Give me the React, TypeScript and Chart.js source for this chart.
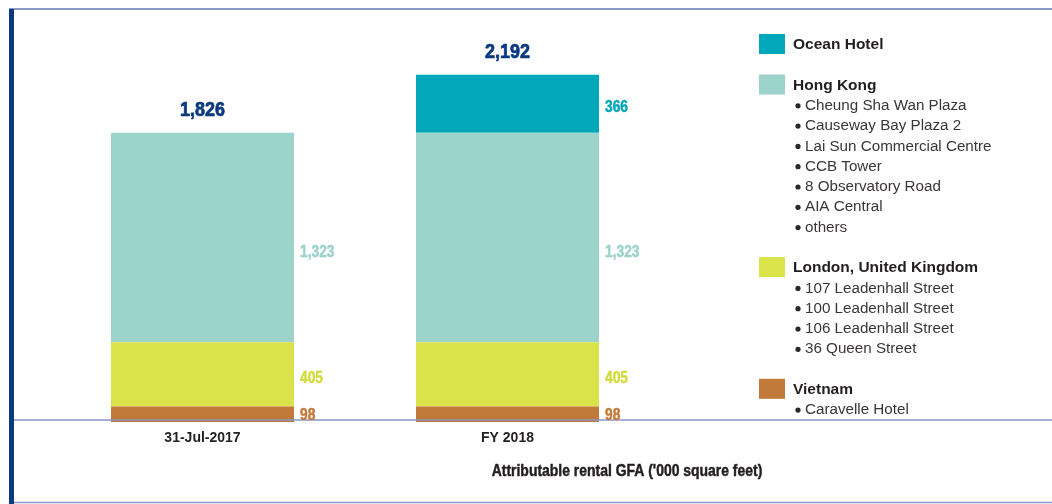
import React, { useEffect, useRef } from "react";
import { Chart, registerables } from "chart.js";

Chart.register(...registerables);

// ---- data ----
const categories = ["31-Jul-2017", "FY 2018"];
const seriesNames = ["Vietnam", "London, United Kingdom", "Hong Kong", "Ocean Hotel"];
const vietnam = [98, 98];
const london = [405, 405];
const hongKong = [1323, 1323];
const oceanHotel = [0, 366];
const seriesColors = ["#c27a3a", "#dbe34b", "#9cd3cb", "#00a8ba"];
const labelColors = ["#c47a3a", "#d3db3e", "#9dd3cc", "#00a6b8"];
const legendOrder = [3, 2, 1, 0];
const vietnamItems = ["Caravelle Hotel"];
const londonItems = ["107 Leadenhall Street", "100 Leadenhall Street", "106 Leadenhall Street", "36 Queen Street"];
const hongKongItems = [
  "Cheung Sha Wan Plaza",
  "Causeway Bay Plaza 2",
  "Lai Sun Commercial Centre",
  "CCB Tower",
  "8 Observatory Road",
  "AIA Central",
  "others",
];
const oceanItems: string[] = [];
const axisTitle = "Attributable rental GFA ('000 square feet)";
const yMax = 2500;

const SANS = '"Liberation Sans", Arial, Helvetica, sans-serif';

const fmt = (v: number) => v.toLocaleString("en-US");

// draws text horizontally condensed and slightly heavier (the original uses a condensed bold face)
function condensedText(ctx: any, text: string, x: number, y: number, sx: number, weight = 0.6) {
  ctx.save();
  ctx.translate(x, y);
  ctx.scale(sx, 1);
  ctx.fillText(text, 0, 0);
  if (weight > 0) {
    ctx.strokeStyle = ctx.fillStyle;
    ctx.lineWidth = weight;
    ctx.lineJoin = "round";
    ctx.strokeText(text, 0, 0);
  }
  ctx.restore();
}

const decorPlugin = {
  id: "decor",
  beforeDraw(chart: any) {
    const ctx = chart.ctx;
    const W = chart.width;
    const H = chart.height;
    ctx.save();
    ctx.fillStyle = "#ffffff";
    ctx.fillRect(0, 0, W, H);
    // top rule
    ctx.strokeStyle = "#8a98c8";
    ctx.lineWidth = 2;
    ctx.beginPath();
    ctx.moveTo(9, 9);
    ctx.lineTo(W, 9);
    ctx.stroke();
    // bottom rule
    ctx.lineWidth = 1.5;
    ctx.beginPath();
    ctx.moveTo(9, 502.5);
    ctx.lineTo(W, 502.5);
    ctx.stroke();
    // left bar
    ctx.fillStyle = "#0c3a7f";
    ctx.fillRect(9, 9, 5, H - 9);
    ctx.restore();
  },
  afterDatasetsDraw(chart: any) {
    const ctx = chart.ctx;
    const area = chart.chartArea;
    const W = chart.width;
    ctx.save();
    // baseline
    ctx.strokeStyle = "#8796c6";
    ctx.lineWidth = 1.5;
    ctx.beginPath();
    ctx.moveTo(14, area.bottom - 2);
    ctx.lineTo(W, area.bottom - 2);
    ctx.stroke();

    // segment value labels
    ctx.textAlign = "left";
    ctx.textBaseline = "middle";
    ctx.font = `bold 16px ${SANS}`;
    const ds = chart.data.datasets;
    const tops: number[] = [];
    const centers: number[] = [];
    const totals: number[] = [];
    ds.forEach((d: any, i: number) => {
      const meta = chart.getDatasetMeta(i);
      meta.data.forEach((el: any, j: number) => {
        const v = d.data[j];
        if (!v) return;
        totals[j] = (totals[j] || 0) + v;
        centers[j] = el.x;
        tops[j] = tops[j] === undefined ? el.y : Math.min(tops[j], el.y);
        const y = el.y + 0.57 * (el.base - el.y);
        ctx.fillStyle = labelColors[i];
        condensedText(ctx, fmt(v), el.x + el.width / 2 + 6, y, 0.86, 0.5);
      });
    });
    // totals
    ctx.textAlign = "center";
    ctx.font = `bold 19.5px ${SANS}`;
    ctx.fillStyle = "#0c3a7f";
    totals.forEach((t, j) => {
      condensedText(ctx, fmt(t), centers[j], tops[j] - 22, 0.92, 0.7);
    });

    // axis title
    ctx.font = `bold 17px ${SANS}`;
    ctx.fillStyle = "#231f20";
    condensedText(ctx, axisTitle, 627, 471.5, 0.82, 0.5);

    // legend
    const items = [vietnamItems, londonItems, hongKongItems, oceanItems];
    const lx = area.right + 99;
    let y = 45;
    legendOrder.forEach((i) => {
      ctx.fillStyle = seriesColors[i];
      ctx.fillRect(lx, y - 11, 26, 20);
      ctx.textAlign = "left";
      ctx.textBaseline = "middle";
      ctx.font = `bold 15.5px ${SANS}`;
      ctx.fillStyle = "#231f20";
      ctx.fillText(seriesNames[i], lx + 34, y);
      let last = y;
      items[i].forEach((name, k) => {
        const iy = y + 20.3 * (k + 1);
        ctx.fillStyle = "#2b2728";
        ctx.beginPath();
        ctx.arc(lx + 39, iy, 2.6, 0, Math.PI * 2);
        ctx.fill();
        ctx.font = `15.2px ${SANS}`;
        ctx.fillStyle = "#3a3637";
        ctx.fillText(name, lx + 46, iy);
        last = iy;
      });
      y = last + 40.5;
    });
    ctx.restore();
  },
};

export default function App() {
  const ref = useRef<HTMLCanvasElement | null>(null);
  useEffect(() => {
    document.body.style.margin = "0";
    const canvas = ref.current;
    if (!canvas) return;
    const series = [vietnam, london, hongKong, oceanHotel];
    const chart = new Chart(canvas, {
      type: "bar",
      data: {
        labels: categories,
        datasets: series.map((d, i) => ({
          label: seriesNames[i],
          data: d,
          backgroundColor: seriesColors[i],
          borderWidth: 0,
          barPercentage: 1,
          categoryPercentage: 0.6,
        })),
      },
      options: {
        responsive: false,
        animation: false,
        devicePixelRatio: 1,
        layout: { padding: { left: 50, right: 392, top: 26, bottom: 0 } },
        plugins: {
          legend: { display: false },
          tooltip: { enabled: false },
        },
        scales: {
          x: {
            stacked: true,
            grid: { display: false, drawTicks: false },
            border: { display: false },
            ticks: {
              color: "#231f20",
              padding: 8,
              font: { family: SANS, size: 14, weight: "bold" },
            },
            afterFit: (s: any) => {
              s.height = 82;
            },
          },
          y: {
            stacked: true,
            display: false,
            min: 0,
            max: yMax,
          },
        },
      },
      plugins: [decorPlugin],
    } as any);
    return () => chart.destroy();
  }, []);
  return (
    <div style={{ width: 1052, height: 504, position: "relative" }}>
      <canvas ref={ref} width={1052} height={504} style={{ display: "block" }} />
    </div>
  );
}
